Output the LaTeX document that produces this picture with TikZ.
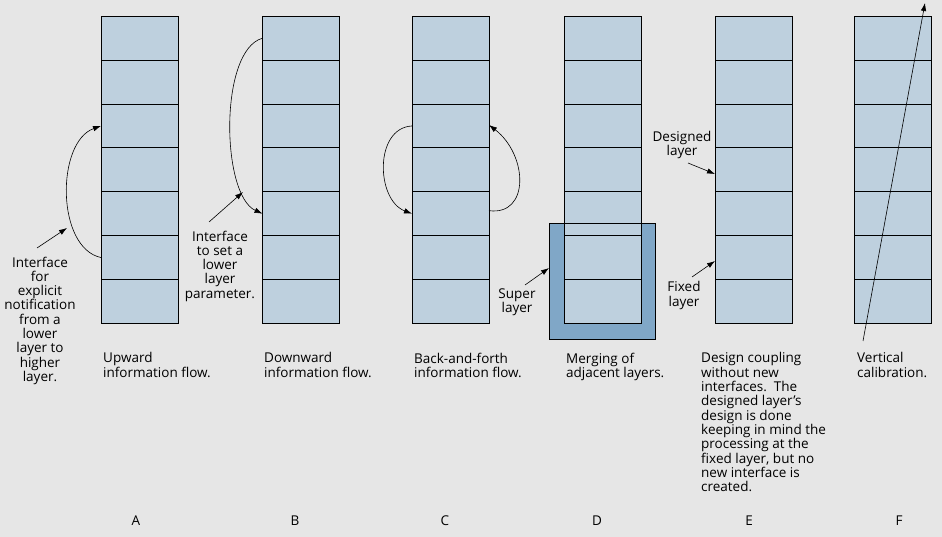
\documentclass[tikz,border=0pt]{standalone}
\usepackage{fontspec}
\setmainfont{Open Sans}
\usetikzlibrary{arrows.meta}
\definecolor{bgcol}{HTML}{E6E6E6}
\definecolor{cellblue}{HTML}{BED0DE}
\definecolor{superblue}{HTML}{80A7C7}
\tikzset{
  cell/.style={draw=black, line width=0.9pt, fill=cellblue, minimum width=77pt, minimum height=43.86pt, inner sep=0pt, outer sep=0pt},
  flow/.style={line width=0.6pt, -{Latex[length=8pt,width=5.5pt]}},
  lbl/.style={font=\fontsize{13.5}{14.3}\selectfont, inner sep=0pt, align=center, anchor=north},
  captxt/.style={font=\fontsize{13.5}{14.3}\selectfont, inner sep=0pt, align=left, anchor=north west},
  letter/.style={font=\fontsize{13.5}{14.3}\selectfont, inner sep=0pt}
}
\begin{document}
\begin{tikzpicture}[x=1pt,y=-1pt]
\fill[bgcol] (0,0) rectangle (942,537);
\useasboundingbox (0,0) rectangle (942,537);
% super layer of D
\node[draw=black, line width=0.9pt, fill=superblue, minimum width=106pt, minimum height=116pt, inner sep=0pt, outer sep=0pt] (super) at (602.3,281.3) {};
% stacks
\foreach \c/\x in {A/101,B/262.5,C/412,D/564,E/715,F/854}{
  \foreach \i in {1,...,7}{
    \node[cell] (\c\i) at (\x+38.5, 16.3+43.86*\i-21.93) {};
  }
}
\draw[line width=0.9pt] (super.north west) -- (super.north east);
% A
\draw[flow] (A6.west) .. controls (56,248) and (56,142) .. (A3.west);
\node[lbl] (Alab) at (40,256.5) {Interface\\for\\explicit\\notification\\from a\\lower\\layer to\\higher\\layer.};
\coordinate (Atail) at (37,248);
\coordinate (Atip) at (67,228);
\draw[flow] (Atail) -- (Atip);
% B
\draw[flow] (B1.west) .. controls (219,50) and (221,195) .. (B5.west);
\node[lbl] (Blab) at (220,230.5) {Interface\\to set a\\lower\\layer\\parameter.};
\coordinate (Btail) at (209,222);
\coordinate (Btip) at (243,192);
\draw[flow] (Btail) -- (Btip);
% C
\draw[flow] (C3.west) .. controls (374,128) and (376,200) .. (C5.west);
\draw[flow] ([yshift=3pt]C5.east) .. controls (530,216) and (528,155) .. ([yshift=1pt]C3.east);
% D
\node[lbl] (Slab) at (517,288.5) {Super\\layer};
\coordinate (Stail) at (525,285);
\coordinate (Stip) at (549,268);
\draw[flow] (Stail) -- (Stip);
% E
\node[lbl] (Dlab) at (682,131) {Designed\\layer};
\coordinate (Dtail) at (688,163);
\coordinate (Dtip) at (715,174);
\draw[flow] (Dtail) -- (Dtip);
\node[lbl] (Xlab) at (684,281.5) {Fixed\\layer};
\coordinate (Xtail) at (692,277);
\coordinate (Xtip) at (715,261);
\draw[flow] (Xtail) -- (Xtip);
% F
\coordinate (Ftail) at (863,341);
\coordinate (Ftip) at (925,3);
\draw[flow] (Ftail) -- (Ftip);
% captions
\node[captxt] (capA) at (103,352.5) {Upward\\information flow.};
\node[captxt] (capB) at (264,352.5) {Downward\\information flow.};
\node[captxt] (capC) at (414,352.5) {Back-and-forth\\information flow.};
\node[captxt] (capD) at (566,352.5) {Merging of\\adjacent layers.};
\node[captxt] (capE) at (701,352.5) {Design coupling\\without new\\interfaces.\ \ The\\designed layer’s\\design is done\\keeping in mind the\\processing at the\\fixed layer, but no\\new interface is\\created.};
\node[captxt] (capF) at (857,352.5) {Vertical\\calibration.};
% letters
\node[letter] (lA) at (136,520.5) {A};
\node[letter] (lB) at (295,520.5) {B};
\node[letter] (lC) at (445,520.5) {C};
\node[letter] (lD) at (597,520.5) {D};
\node[letter] (lE) at (749,520.5) {E};
\node[letter] (lF) at (899,520.5) {F};
\end{tikzpicture}
\end{document}
